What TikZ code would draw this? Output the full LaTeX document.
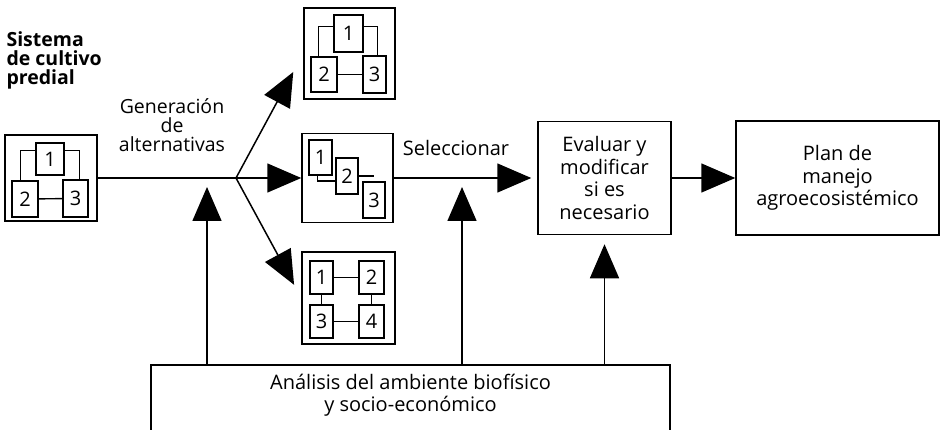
\documentclass[tikz,border=0pt]{standalone}
\usepackage{fontspec}
\setmainfont{Open Sans}
\usetikzlibrary{arrows.meta}

\begin{document}
\begin{tikzpicture}[x=1pt,y=-1pt,
    txt/.style={font=\fontsize{20}{22.5}\selectfont, align=center},
    frame/.style={draw, line width=1.5pt, inner sep=0pt},
    part/.style 2 args={draw, line width=1.4pt, inner sep=0pt,
      minimum width=#1, minimum height=#2, font=\fontsize{20}{20}\selectfont},
    link/.style={line width=1.4pt},
    arr/.style={line width=1.5pt, -{Triangle[length=34pt,width=29pt]}}]
    \useasboundingbox (0,0) rectangle (941,430);
    \clip (0,0) rectangle (941,430);

    % Starting system
    \node[frame, minimum width=92pt, minimum height=86pt] (sysL) at (51,178) {};
    \node[part={28pt}{32pt}] (l1) at (50,159) {1};
    \node[part={26pt}{36pt}] (l2) at (25,199) {2};
    \node[part={25pt}{37pt}] (l3) at (75.5,198.5) {3};
    \draw[link] ([yshift=-8pt]l1.north west) -| ([xshift=9pt]l2.north west);
    \draw[link] ([yshift=-8pt]l1.north east) -| ([xshift=-9pt]l3.north east);
    \draw[link] (l2) -- (l3);
    \node[anchor=north west, align=left, font=\fontsize{19.5}{19}\selectfont\bfseries]
      (title) at (3,28) {Sistema\\de cultivo\\predial};

    % Alternative 1
    \node[frame, minimum width=91pt, minimum height=91pt] (sysT) at (349.5,53.5) {};
    \node[part={29pt}{37pt}] (t1) at (348.5,33.5) {1};
    \node[part={26pt}{35pt}] (t2) at (324,74.5) {2};
    \node[part={23pt}{37pt}] (t3) at (374.5,74.5) {3};
    \draw[link] ([yshift=-12pt]t1.north west) -| ([xshift=8pt]t2.north west);
    \draw[link] ([yshift=-12pt]t1.north east) -| ([xshift=-9pt]t3.north east);
    \draw[link] (t2) -- (t3);

    % Alternative 2
    \node[frame, minimum width=91pt, minimum height=89pt] (sysM) at (347.5,178) {};
    \node[part={23pt}{35pt}] (m1) at (320.5,157.5) {1};
    \node[part={22pt}{36pt}] (m2) at (347,176) {2};
    \node[part={22pt}{36pt}] (m3) at (374,200) {3};
    \coordinate (mend) at ([xshift=15pt]m2.east);
    \draw[link] ([xshift=9pt]m1.south west) |- ([yshift=-5pt]m2.west);
    \draw[link] (m2.east) -- (mend);

    % Alternative 3
    \node[frame, minimum width=93pt, minimum height=92pt] (sysB) at (348.5,298) {};
    \node[part={23pt}{33pt}] (b1) at (321.5,277.5) {1};
    \node[part={25pt}{33pt}] (b2) at (371.5,277.5) {2};
    \node[part={23pt}{33pt}] (b3) at (321.5,321.5) {3};
    \node[part={25pt}{33pt}] (b4) at (371.5,321.5) {4};
    \draw[link] (b1) -- (b2);
    \draw[link] (b3) -- (b4);
    \draw[link] (b1) -- (b3);
    \draw[link] (b2) -- (b4);

    % Boxes
    \node[frame, txt, minimum width=133pt, minimum height=113pt] (evaluar) at (604.5,178)
      {Evaluar y\\modificar\\si es\\necesario};
    \node[frame, txt, minimum width=203pt, minimum height=114pt] (plan) at (837.5,178)
      {Plan de\\manejo\\agroecosistémico};
    \node[txt, minimum width=519pt, minimum height=60pt] (analisis) at (410.5,395)
      {Análisis del ambiente biofísico\\y socio-económico};
    \draw[line width=1.5pt] ([yshift=-20pt]analisis.south west) |- (analisis.north east)
      -- ([yshift=-20pt]analisis.south east);

    % Labels
    \node[txt, font=\fontsize{19.5}{19}\selectfont] (gen) at (172,125) {Generación\\de\\alternativas};
    \node[txt] (sel) at (456,148) {Seleccionar};

    % Arrows
    \coordinate (fork) at (236,178);
    \coordinate (in1) at (207,178);
    \coordinate (in2) at (462,178);
    \draw[link] (sysL) -- (fork);
    \draw[arr, shorten >=21pt] (fork) -- (sysT.west);
    \draw[arr] (fork) -- (sysM);
    \draw[arr, shorten >=15pt] (fork) -- (sysB.west);
    \draw[arr, shorten >=6pt] (sysM) -- (evaluar);
    \draw[arr] (evaluar) -- (plan);
    \draw[arr, shorten >=9pt] (analisis.north -| in1) -- (in1);
    \draw[arr, shorten >=9pt] (analisis.north -| in2) -- (in2);
    \draw[arr, shorten >=9pt] (analisis.north -| evaluar.south) -- (evaluar.south);
\end{tikzpicture}
\end{document}
